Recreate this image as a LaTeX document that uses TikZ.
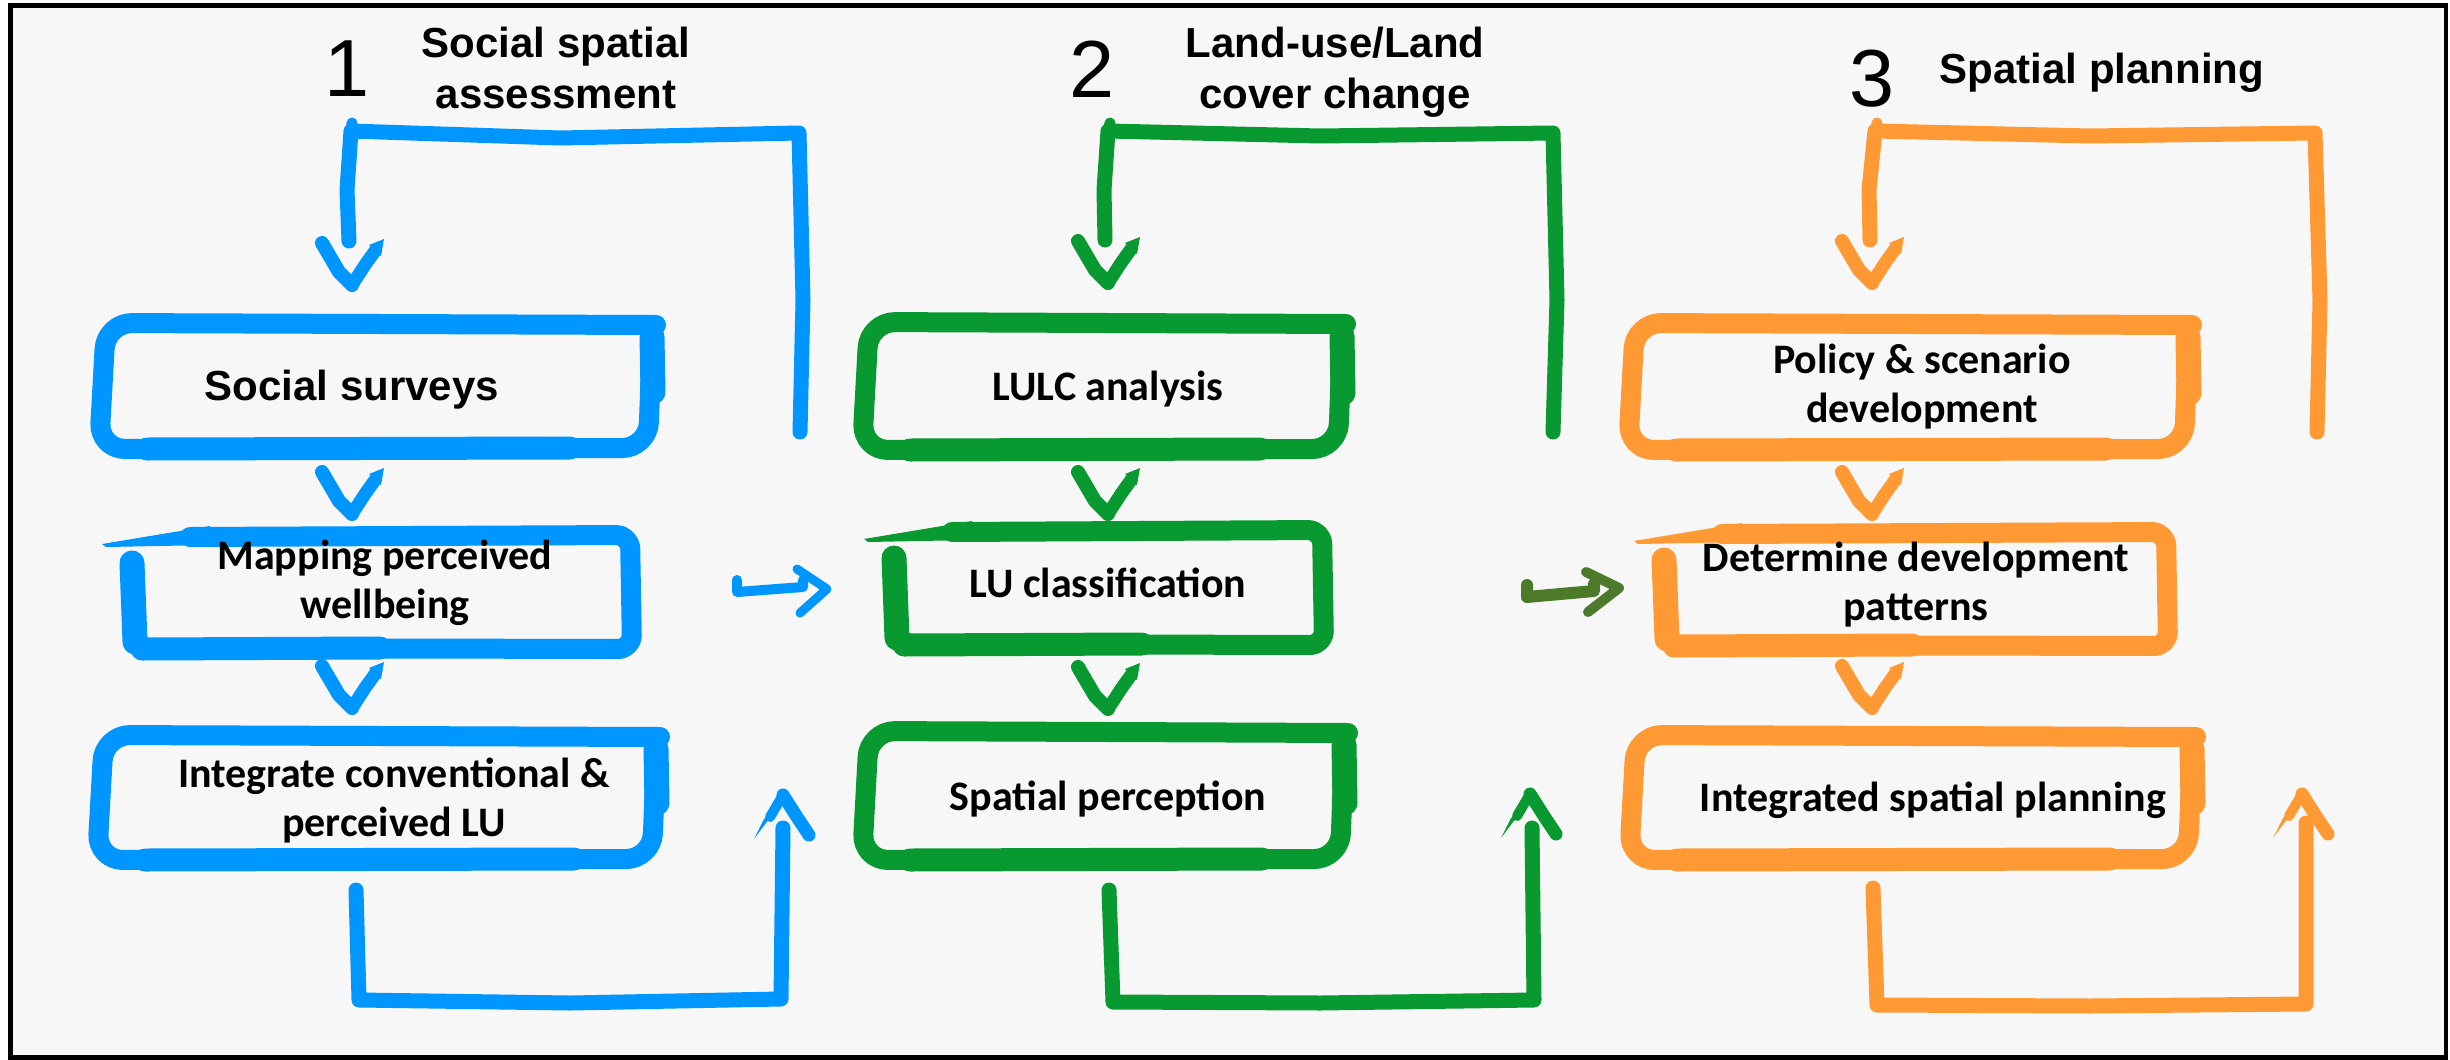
\documentclass[tikz,border=0pt]{standalone}
\usepackage{fontspec}
\setmainfont{Liberation Sans}
\newfontfamily\carlito{Carlito}
\usetikzlibrary{calc}

\definecolor{cblue}{RGB}{0,150,255}
\definecolor{cgreen}{RGB}{8,153,48}
\definecolor{corange}{RGB}{255,153,51}
\definecolor{cdkgreen}{RGB}{76,122,42}
\definecolor{paper}{RGB}{247,247,247}

% box area as a named node, outline drawn as a sketchy stroke
% #1 name, #2 colour, #3 left, #4 top, #5 right, #6 bottom
\newcommand\sketchboxA[6]{%
  \node[boxarea, minimum width=#5pt-#3pt, minimum height=#6pt-#4pt]
    (#1) at ({(#3+#5)/2},{(#4+#6)/2}) {};
  \draw[#2, boxpen, rounded corners=26pt]
    (#5+6,#4+2) -- (#3+4,#4) -- (#3-3,#6+2) -- (#5-2,#6+1) -- (#5+2,#4+16);
  \draw[#2, line width=25pt, line cap=round] (#5+2,#4+14) -- (#5+3,#6-55);
  \draw[#2, line width=23pt, line cap=round] (#3+45,#6+2) -- (#5-80,#6+1);
}
\newcommand\sketchboxB[6]{%
  \node[boxarea, minimum width=#5pt-#3pt, minimum height=#6pt-#4pt]
    (#1) at ({(#3+#5)/2},{(#4+#6)/2}) {};
  \draw[#2, boxpen, rounded corners=14pt]
    (#3+2,#4+28) -- (#3+5,#6) -- (#5,#6+1) -- (#5-2,#4) -- (#3+60,#4+2);
  \draw[#2, line width=25pt, line cap=round] (#3+2,#4+28) -- (#3+5,#6-6);
  \draw[#2, line width=23pt, line cap=round] (#3+12,#6+1) -- (#3+250,#6);
  \fill[#2] (#3+80,#4-9) -- (#3-28,#4+9) -- (#3-24,#4+12) -- (#3+80,#4+10) -- cycle;
}
% downward V head with its tip at (#2,#3)
\newcommand\vdown[3]{%
  \draw[#1, line width=14pt, line cap=round, line join=round]
    (#2-30,#3-46) -- (#2-13,#3-17) -- (#2,#3-4);
  \draw[#1, line width=13pt, line cap=round, line join=round]
    (#2,#3-4) -- (#2+13,#3-24) -- (#2+23,#3-38);
  \fill[#1] (#2+17,#3-44) -- (#2+32,#3-50) -- (#2+29,#3-33) -- cycle;
}
% upward V head with its tip at (#2,#3)
\newcommand\vup[3]{%
  \draw[#1, line width=13pt, line cap=round, line join=round]
    (#2,#3+4) -- (#2+14,#3+26) -- (#2+26,#3+44);
  \draw[#1, line width=10pt, line cap=round] (#2,#3+4) -- (#2-13,#3+26);
  \fill[#1] (#2-8,#3+20) -- (#2-29,#3+48) -- (#2-19,#3+28) -- cycle;
}

\tikzset{
  boxarea/.style={inner sep=0pt, outer sep=0pt},
  boxpen/.style={line width=20pt, line cap=round, line join=round},
  pen/.style={line width=15pt, line cap=round, line join=round},
  numeral/.style={font=\fontsize{81}{81}\selectfont, anchor=base, inner sep=0pt},
  heading/.style={font=\bfseries\fontsize{42}{51}\selectfont, align=center, anchor=base, inner sep=0pt},
  arialtext/.style={font=\bfseries\fontsize{42}{49}\selectfont, align=center, anchor=base, inner sep=0pt},
  stagetext/.style={font=\carlito\bfseries\fontsize{42}{49}\selectfont, align=center, anchor=base, inner sep=0pt},
}

\begin{document}
\begin{tikzpicture}[x=1pt,y=-1pt]
\useasboundingbox (0,0) rectangle (2450,1060);
\fill[white] (0,0) rectangle (2450,1060);
\draw[line width=4.5pt, fill=paper] (10.5,5.5) rectangle (2446,1057.5);

% ---------- headings (base = baseline of the last line) ----------
\node[numeral] (n1) at (347,96) {1};
\node[numeral] (n2) at (1092,97) {2};
\node[numeral] (n3) at (1872,106) {3};
\node[heading] (h1) at (556,108) {Social spatial\\assessment};
\node[heading] (h2) at (1335,108) {Land-use/Land\\cover change};
\node[heading] (h3) at (2102,83) {Spatial planning};

% ---------- column 1: social spatial assessment ----------
\sketchboxA{ss}{cblue}{102}{323}{650}{447}
\sketchboxB{mp}{cblue}{130}{535}{632}{648}
\sketchboxA{ic}{cblue}{100}{735}{654}{858}
\node[arialtext] (ss-t) at (352,400) {Social surveys};
\node[stagetext] (mp-t) at (385,618) {Mapping perceived\\wellbeing};
\node[stagetext] (ic-t) at (394,836) {Integrate conventional \&\\perceived LU};
\vdown{cblue}{352}{289}
\vdown{cblue}{352}{518}
\vdown{cblue}{352}{712}
\coordinate (l1a) at (800,432);
\coordinate (l1b) at (349,241);
\draw[cblue, pen] (l1a) -- (803,300) -- (799,133) -- (560,138) -- (351,131) -- (347,190) -- (l1b);
\draw[cblue, line width=11pt, line cap=round] (352,123) -- (351,133);
\coordinate (b1a) at (356,890);
\coordinate (b1b) at (783,828);
\draw[cblue, pen] (b1a) -- (359,1000) -- (570,1003) -- (781,999) -- (b1b);
\vup{cblue}{783}{791}

% ---------- column 2: land-use / land cover change ----------
\sketchboxA{la}{cgreen}{865}{322}{1340}{448}
\sketchboxB{lc}{cgreen}{892}{530}{1324}{644}
\sketchboxA{sp}{cgreen}{865}{731}{1342}{858}
\node[stagetext] (la-t) at (1108,400) {LULC analysis};
\node[stagetext] (lc-t) at (1108,597) {LU classification};
\node[stagetext] (sp-t) at (1108,810) {Spatial perception};
\vdown{cgreen}{1108}{287}
\vdown{cgreen}{1108}{518}
\vdown{cgreen}{1108}{713}
\coordinate (l2a) at (1553,432);
\coordinate (l2b) at (1105,240);
\draw[cgreen, pen] (l2a) -- (1557,300) -- (1553,133) -- (1320,136) -- (1108,131) -- (1104,190) -- (l2b);
\draw[cgreen, line width=11pt, line cap=round] (1110,123) -- (1108,133);
\coordinate (b2a) at (1109,890);
\coordinate (b2b) at (1532,828);
\draw[cgreen, pen] (b2a) -- (1113,1002) -- (1320,1003) -- (1534,1000) -- (b2b);
\vup{cgreen}{1530}{790}

% ---------- column 3: spatial planning ----------
\sketchboxA{pd}{corange}{1631}{323}{2186}{448}
\sketchboxB{dp}{corange}{1662}{532}{2168}{645}
\sketchboxA{is}{corange}{1632}{735}{2190}{858}
\node[stagetext] (pd-t) at (1922,422) {Policy \& scenario\\development};
\node[stagetext] (dp-t) at (1916,620) {Determine development\\patterns};
\node[stagetext] (is-t) at (1933,811) {Integrated spatial planning};
\vdown{corange}{1872}{287}
\vdown{corange}{1872}{518}
\vdown{corange}{1872}{712}
\coordinate (l3a) at (2317,432);
\coordinate (l3b) at (1870,240);
\draw[corange, pen] (l3a) -- (2320,300) -- (2315,133) -- (2090,136) -- (1875,131) -- (1869,190) -- (l3b);
\draw[corange, line width=11pt, line cap=round] (1877,123) -- (1875,133);
\coordinate (b3a) at (1873,888);
\coordinate (b3b) at (2306,823);
\draw[corange, pen] (b3a) -- (1877,1005) -- (2090,1006) -- (2306,1004) -- (b3b);
\vup{corange}{2302}{790}

% ---------- links between the columns ----------
\coordinate (x1a) at (737,592);
\coordinate (x1b) at (827,589);
\draw[cblue, line width=10pt, line cap=round, line join=round] (737,580) -- (x1a) -- (803,587) -- (803,580);
\draw[cblue, line width=9pt, line cap=round, line join=round] (797,569) -- (x1b) -- (800,613);
\coordinate (x2a) at (1527,597);
\coordinate (x2b) at (1619,588);
\draw[cdkgreen, line width=12pt, line cap=round, line join=round] (1527,585) -- (x2a) -- (1594,591) -- (1594,584);
\draw[cdkgreen, line width=10pt, line cap=round, line join=round] (1586,572) -- (x2b) -- (1588,612);
\end{tikzpicture}
\end{document}
